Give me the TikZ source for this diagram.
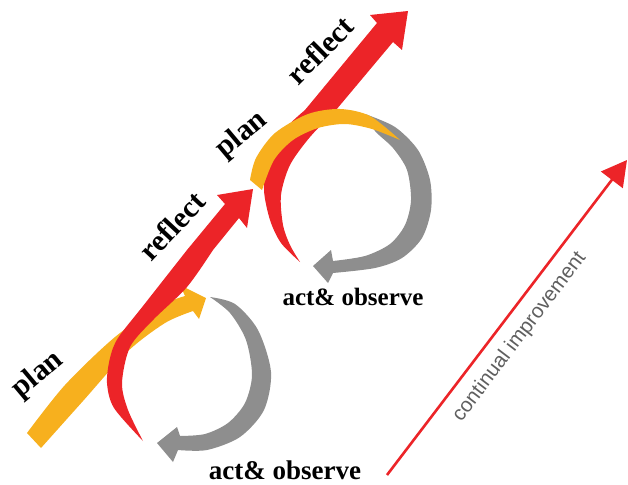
\documentclass[tikz,border=0pt]{standalone}
\usepackage{fontspec}
\setmainfont{Liberation Serif}
\newfontfamily\improvefont{Liberation Sans}
\usetikzlibrary{arrows.meta}
\definecolor{cycred}{RGB}{236,36,40}
\definecolor{cycyellow}{RGB}{247,176,30}
\definecolor{cycgray}{RGB}{142,142,142}
\definecolor{cyctext}{RGB}{95,95,95}

\begin{document}
\begin{tikzpicture}[x=1pt, y=-1pt,
    stage/.style={font=\fontsize{30}{30}\selectfont\bfseries, inner sep=0pt},
    actlabel/.style={font=\fontsize{#1}{#1}\selectfont\bfseries, inner sep=0pt},
    improve/.style={font=\improvefont\fontsize{20.5}{20.5}\selectfont, text=cyctext, inner sep=0pt}]
  \useasboundingbox (0,0) rectangle (628,484);

  % first loop
  \fill[cycyellow] plot[smooth] coordinates {(27,433) (65,385) (115,337) (160,306) (185,296)}
    -- (180,285) -- (206,298) -- (199,319)
    -- plot[smooth] coordinates {(193,311) (165,323) (127,352) (83,401) (41,448)} -- cycle;
  \fill[cycred] plot[smooth] coordinates {(143,441) (114,408) (107,383) (110,358) (118,338) (143,306) (187,250)}
    -- (225,204) -- (217,195) -- (253,189) -- (247,228) -- (239,218)
    -- plot[smooth] coordinates {(213,250) (187,287) (153,320) (130,347) (122,383) (128,410) (143,441)} -- cycle;
  \fill[cycgray] plot[smooth] coordinates {(210,297) (235,304) (258,330) (271,372) (264,410) (240,437) (207,450) (178,450)}
    -- (173,462) -- (157,443) -- (177,427) -- (180,436)
    -- plot[smooth] coordinates {(180,436) (205,434) (228,423) (245,403) (252,375) (246,340) (230,313) (210,297)} -- cycle;

  % second loop
  \fill[cycred] plot[smooth] coordinates {(300,262) (281,243) (270,220) (264,190) (268,160) (282,132) (305,110)}
    -- (377,23) -- (370,15) -- (408,11) -- (402,50) -- (393,42)
    -- plot[smooth] coordinates {(336,110) (310,137) (290,165) (281,195) (283,225) (290,245) (300,262)} -- cycle;
  \fill[cycgray] plot[smooth] coordinates {(365,114) (395,127) (418,150) (430,180) (431,210) (422,238) (402,258) (375,268) (333,273)}
    -- (328,283) -- (313,266) -- (331,250) -- (333,261)
    -- plot[smooth] coordinates {(333,261) (365,256) (390,244) (405,225) (411,200) (407,170) (393,148) (375,131) (365,114)} -- cycle;
  \fill[cycyellow] plot[smooth] coordinates {(250,180) (256,158) (275,133) (308,114) (340,109) (370,116) (400,140)}
    -- plot[smooth] coordinates {(400,140) (372,129) (345,124) (318,128) (293,140) (274,160) (262,190)} -- cycle;

  \node[stage, rotate=40] (plan1) at (38,375) {plan};
  \node[stage, rotate=47] (reflect1) at (172,226) {reflect};
  \node[stage, rotate=40] (plan2) at (242,135) {plan};
  \node[stage, rotate=45] (reflect2) at (320,50) {reflect};
  \node[actlabel=25] (act2) at (353,297) {act\& observe};
  \node[actlabel=27] (act1) at (285,470) {act\& observe};

  \coordinate (ci0) at (387,475);
  \coordinate (ci1) at (627,160);
  \draw[cycred, line width=2.6pt, -{Triangle[length=25pt, width=27pt]}] (ci0)
    -- node[improve, pos=0.48, sloped, below=11pt] (ci) {continual improvement} (ci1);
\end{tikzpicture}
\end{document}
